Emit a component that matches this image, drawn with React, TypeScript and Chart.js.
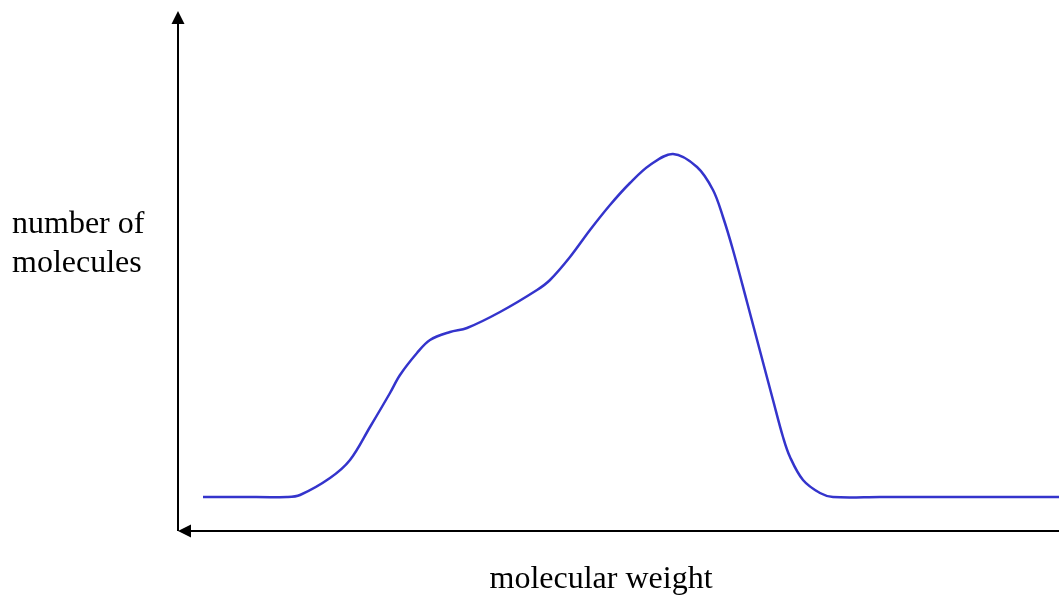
import React, { useEffect, useRef } from "react";
import { Chart, registerables } from "chart.js";

Chart.register(...registerables);

// molecular weight (arbitrary units)
const molecularWeight = [
  25, 62, 109, 122, 152, 172, 192, 212, 222, 239, 252, 272, 289, 322, 359, 372,
  392, 412, 432, 452, 472, 495, 519, 535, 545, 555, 569, 582, 595, 605,
  612, 625, 642, 655, 702, 772, 881,
];
// number of molecules (arbitrary units)
const numberOfMolecules = [
  34, 34, 34, 36, 53, 71, 104, 138, 156, 178, 191, 199, 203, 219, 241, 251,
  274, 301, 326, 348, 366, 377, 364, 341, 314, 281, 229, 180, 131, 94,
  74, 51, 38, 34, 34, 34, 34,
];

const xAxisTitle = "molecular weight";
const yAxisTitleLines = ["number of", "molecules"];

const X_MIN = 0;
const X_MAX = 881;
const Y_MIN = 0;
const Y_MAX = 519;

const axesPlugin = {
  id: "arrowAxes",
  afterDraw(chart: any) {
    const { ctx, chartArea } = chart;
    const { left, right, top, bottom } = chartArea;
    ctx.save();
    ctx.strokeStyle = "#000";
    ctx.fillStyle = "#000";
    ctx.lineWidth = 2;
    // y axis
    ctx.beginPath();
    ctx.moveTo(left, bottom);
    ctx.lineTo(left, top + 8);
    ctx.stroke();
    // y arrow head
    ctx.beginPath();
    ctx.moveTo(left, top - 1);
    ctx.lineTo(left - 6.5, top + 12);
    ctx.lineTo(left + 6.5, top + 12);
    ctx.closePath();
    ctx.fill();
    // x axis
    ctx.beginPath();
    ctx.moveTo(left + 8, bottom);
    ctx.lineTo(right, bottom);
    ctx.stroke();
    // x arrow head (pointing left)
    ctx.beginPath();
    ctx.moveTo(left, bottom);
    ctx.lineTo(left + 13, bottom - 6.5);
    ctx.lineTo(left + 13, bottom + 6.5);
    ctx.closePath();
    ctx.fill();

    // labels
    ctx.font = '32px "Liberation Serif", "Times New Roman", serif';
    ctx.textBaseline = "alphabetic";
    ctx.textAlign = "left";
    ctx.fillText(yAxisTitleLines[0], 12, 233);
    ctx.fillText(yAxisTitleLines[1], 12, 272);
    ctx.textAlign = "center";
    ctx.fillText(xAxisTitle, 601, 588);
    ctx.restore();
  },
};

export default function App() {
  const canvasRef = useRef<HTMLCanvasElement | null>(null);

  useEffect(() => {
    if (!canvasRef.current) return;
    const chart = new Chart(canvasRef.current, {
      type: "line",
      data: {
        datasets: [
          {
            data: molecularWeight.map((x, i) => ({ x, y: numberOfMolecules[i] })),
            borderColor: "#3434CC",
            borderWidth: 2.5,
            pointRadius: 0,
            fill: false,
            tension: 0.35,
            clip: false as any,
          },
        ],
      },
      options: {
        responsive: false,
        animation: false,
        devicePixelRatio: 1,
        layout: { padding: { left: 178, right: 0, top: 12, bottom: 67 } },
        plugins: {
          legend: { display: false },
          tooltip: { enabled: false },
          title: { display: false },
        },
        scales: {
          x: { type: "linear", min: X_MIN, max: X_MAX, display: false },
          y: { type: "linear", min: Y_MIN, max: Y_MAX, display: false },
        },
      },
      plugins: [axesPlugin],
    });
    return () => chart.destroy();
  }, []);

  return (
    <div style={{ position: "fixed", left: 0, top: 0, width: 1059, height: 598, background: "#fff" }}>
      <canvas ref={canvasRef} width={1059} height={598} />
    </div>
  );
}
